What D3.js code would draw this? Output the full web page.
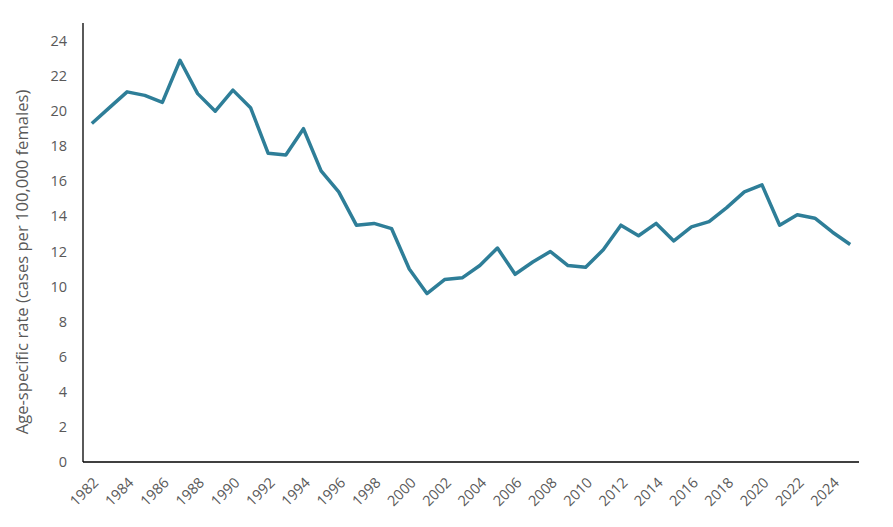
<!DOCTYPE html>
<html>
<head>
<meta charset="utf-8">
<script src="https://cdn.jsdelivr.net/npm/d3@7"></script>
<style>
  body { margin: 0; background: #fff; }
  text { font-family: "Open Sans", "Noto Sans", sans-serif; }
</style>
</head>
<body>
<div id="chart-area"></div>
<script>
// data
const years = d3.range(1982, 2026);
const rates = [
  19.3, 20.2, 21.1, 20.9, 20.5, 22.9, 21.0, 20.0, 21.2, 20.2,
  17.6, 17.5, 19.0, 16.6, 15.4, 13.5, 13.6, 13.3, 11.0, 9.6,
  10.4, 10.5, 11.2, 12.2, 10.7, 11.4, 12.0, 11.2, 11.1, 12.1,
  13.5, 12.9, 13.6, 12.6, 13.4, 13.7, 14.5, 15.4, 15.8, 13.5,
  14.1, 13.9, 13.1, 12.4
];
const yTicks = d3.range(0, 25, 2);
const yLabel = "Age-specific rate (cases per 100,000 females)";

const svgW = 893, svgH = 527;
const margin = { left: 83, right: 34, top: 23, bottom: 65 };
const width = svgW - margin.left - margin.right,
      height = svgH - margin.top - margin.bottom;

const svg = d3.select("#chart-area")
  .append("svg")
    .attr("width", svgW)
    .attr("height", svgH);

const g = svg.append("g")
  .attr("transform", "translate(" + margin.left + "," + margin.top + ")");

// category axis like excel: points in middle of each band
const xScale = d3.scaleBand()
  .domain(years)
  .range([0, width]);

const yScale = d3.scaleLinear()
  .domain([0, 24])
  .range([height, height - 421]);

// y tick labels (no tick marks)
g.selectAll(".ytick")
  .data(yTicks)
  .enter()
  .append("text")
    .attr("class", "ytick")
    .attr("x", -16)
    .attr("y", (d) => yScale(d))
    .attr("dy", "0.35em")
    .attr("text-anchor", "end")
    .attr("font-size", "14.5px")
    .attr("fill", "#595959")
    .text((d) => d);

// x tick labels every other year, rotated
g.selectAll(".xtick")
  .data(years.filter((d) => (d - 1982) % 2 === 0))
  .enter()
  .append("text")
    .attr("class", "xtick")
    .attr("transform", (d) => "translate(" + (xScale(d) + xScale.bandwidth() / 2 + 4) + "," + (height + 18) + ") rotate(-45)")
    .attr("text-anchor", "end")
    .attr("dy", "0.35em")
    .attr("font-size", "14.5px")
    .attr("fill", "#595959")
    .text((d) => d);

// axis lines
g.append("line")
  .attr("x1", 0).attr("x2", 0)
  .attr("y1", 0).attr("y2", height)
  .attr("stroke", "#000").attr("stroke-width", 1.3);

g.append("line")
  .attr("x1", 0).attr("x2", width)
  .attr("y1", height).attr("y2", height)
  .attr("stroke", "#000").attr("stroke-width", 1.3);

// y axis title
svg.append("text")
  .attr("transform", "translate(28,262) rotate(-90)")
  .attr("text-anchor", "middle")
  .attr("font-size", "16.6px")
  .attr("fill", "#595959")
  .text(yLabel);

// the line
const line = d3.line()
  .x((d, i) => xScale(years[i]) + xScale.bandwidth() / 2)
  .y((d) => yScale(d));

g.append("path")
  .datum(rates)
  .attr("fill", "none")
  .attr("stroke", "#2e7e98")
  .attr("stroke-width", 3.5)
  .attr("stroke-linejoin", "round")
  .attr("d", line);
</script>
</body>
</html>
